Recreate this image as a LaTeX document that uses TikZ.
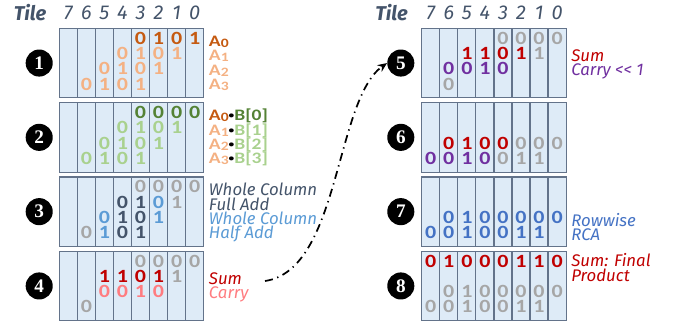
\documentclass[tikz,border=0pt]{standalone}
\usepackage{fontspec}
\usetikzlibrary{calc,arrows.meta}
\newfontfamily\digfont[FakeStretch=1.18]{Carlito}
\newfontfamily\labfont[FakeStretch=1.22]{Carlito}
\newfontfamily\itfont{Fira Sans}
\newfontfamily\numfont{Liberation Serif}
\definecolor{tilefill}{HTML}{DEEBF7}
\definecolor{tileline}{HTML}{63738A}
\definecolor{orD}{HTML}{C55A11}
\definecolor{orL}{HTML}{F4B183}
\definecolor{grD}{HTML}{548235}
\definecolor{grL}{HTML}{A9D18E}
\definecolor{gry}{HTML}{A6A6A6}
\definecolor{slate}{HTML}{44546A}
\definecolor{blu}{HTML}{5B9BD5}
\definecolor{redD}{HTML}{C00000}
\definecolor{redL}{HTML}{FF7C80}
\definecolor{purp}{HTML}{7030A0}
\definecolor{rca}{HTML}{4472C4}
\newcommand\drawtile[2]{%
  \coordinate (#1) at (#2);
  \foreach \k in {0,...,7}{
    \draw[colbox] ($(#1)+(\k*18.05,0)$) rectangle ($(#1)+(\k*18.05+18.05,69.5)$);
  }
}
\newcommand\digrow[5]{%
  \foreach \d [count=\i from 0] in {#5}{
    \pgfmathtruncatemacro\cc{#3-\i}
    \node[digit, text=#4] (#1-r#2-c\cc) at ($(#1)+({(7.5-\cc)*18.05},{9.8+(#2-1)*15.3})$) {\d};
  }
}
\newcommand\dg[5]{%
  \node[digit, text=#4] (#1-r#2-c#3) at ($(#1)+({(7.5-#3)*18.05},{9.8+(#2-1)*15.3})$) {#5};
}
\newcommand\lab[5]{%
  \node[#4] (#1-#2) at ($(#1)+(149.4,#3)$) {#5};
}
\newcommand\Asub[1]{A{\fontsize{9.6}{9.6}\selectfont\raisebox{-0.8pt}{#1}}}
\newcommand\AB[4]{\textcolor{#3}{\Asub{#1}}\textcolor{black}{\raisebox{1.3pt}{\fontsize{7}{7}\selectfont\textbullet}}\textcolor{#4}{B[#2]}}
\begin{document}
\begin{tikzpicture}[x=0.75pt,y=-0.75pt,
  colbox/.style={draw=tileline, fill=tilefill, line width=0.9pt},
  digit/.style={font=\digfont\bfseries\fontsize{14}{14}\selectfont, inner sep=0pt, anchor=center},
  lab/.style={font=\labfont\bfseries\fontsize{12}{12}\selectfont, inner sep=0pt, anchor=west, text height=7.7pt, text depth=0pt},
  itlab/.style={font=\itfont\itshape\fontsize{12.6}{12.6}\selectfont, inner sep=0pt, anchor=west, text height=8.7pt, text depth=0pt},
  badge/.style={circle, fill=black, minimum size=20.3pt, inner sep=0pt, text=white, font=\numfont\bfseries\fontsize{14.4}{14.4}\selectfont},
  hdr/.style={font=\itfont\itshape\fontsize{15}{15}\selectfont, text=slate, inner sep=0pt},
  tilehdr/.style={font=\itfont\bfseries\itshape\fontsize{15}{15}\selectfont, text=slate, inner sep=0pt},
  arrowline/.style={line width=1.3pt, dash pattern=on 6pt off 3.5pt on 1pt off 3.5pt, -{Stealth[length=7pt,width=6pt]}}
]
\useasboundingbox (0,0) rectangle (681,324);
% headers
\node[tilehdr] (hTL) at (30,12.5) {Tile};
\node[tilehdr] (hTR) at (391.5,12.5) {Tile};
\foreach \c in {0,...,7}{
  \node[hdr] (hL\c) at ({59.3+(7.5-\c)*18.05},13) {\c};
  \node[hdr] (hR\c) at ({421.7+(7.5-\c)*18.05},13) {\c};
}
% tiles
\drawtile{T1}{59.3,28.3}
\drawtile{T2}{59.3,102.6}
\drawtile{T3}{59.3,176.9}
\drawtile{T4}{59.3,251.2}
\drawtile{T5}{421.7,28.3}
\drawtile{T6}{421.7,102.6}
\drawtile{T7}{421.7,176.9}
\drawtile{T8}{421.7,251.2}
% badges
\node[badge] (b1) at (39.2,63.05) {1};
\node[badge] (b2) at (39.2,137.35) {2};
\node[badge] (b3) at (39.2,211.65) {3};
\node[badge] (b4) at (39.2,285.95) {4};
\node[badge] (b5) at (400.8,63.05) {5};
\node[badge] (b6) at (400.8,137.35) {6};
\node[badge] (b7) at (400.8,211.65) {7};
\node[badge] (b8) at (400.8,285.95) {8};
% tile 1
\digrow{T1}{1}{3}{orD}{0,1,0,1}
\digrow{T1}{2}{4}{orL}{0,1,0,1}
\digrow{T1}{3}{5}{orL}{0,1,0,1}
\digrow{T1}{4}{6}{orL}{0,1,0,1}
\lab{T1}{l1}{13}{lab, text=orD}{\Asub{0}}
\lab{T1}{l2}{27.3}{lab, text=orL}{\Asub{1}}
\lab{T1}{l3}{41.6}{lab, text=orL}{\Asub{2}}
\lab{T1}{l4}{55.9}{lab, text=orL}{\Asub{3}}
% tile 2
\digrow{T2}{1}{3}{grD}{0,0,0,0}
\digrow{T2}{2}{4}{grL}{0,1,0,1}
\digrow{T2}{3}{5}{grL}{0,1,0,1}
\digrow{T2}{4}{6}{grL}{0,1,0,1}
\lab{T2}{l1}{13}{lab}{\AB{0}{0}{orD}{grD}}
\lab{T2}{l2}{27.3}{lab}{\AB{1}{1}{orL}{grL}}
\lab{T2}{l3}{41.6}{lab}{\AB{2}{2}{orL}{grL}}
\lab{T2}{l4}{55.9}{lab}{\AB{3}{3}{orL}{grL}}
% tile 3
\digrow{T3}{1}{3}{gry}{0,0,0,0}
\dg{T3}{2}{4}{slate}{0}\dg{T3}{2}{3}{slate}{1}\dg{T3}{2}{2}{blu}{0}\dg{T3}{2}{1}{gry}{1}
\dg{T3}{3}{5}{blu}{0}\dg{T3}{3}{4}{slate}{1}\dg{T3}{3}{3}{slate}{0}\dg{T3}{3}{2}{blu}{1}
\dg{T3}{4}{6}{gry}{0}\dg{T3}{4}{5}{blu}{1}\dg{T3}{4}{4}{slate}{0}\dg{T3}{4}{3}{slate}{1}
\lab{T3}{l1}{13}{itlab, text=slate}{Whole Column}
\lab{T3}{l2}{27.3}{itlab, text=slate}{Full Add}
\lab{T3}{l3}{41.6}{itlab, text=blu}{Whole Column}
\lab{T3}{l4}{55.9}{itlab, text=blu}{Half Add}
% tile 4
\digrow{T4}{1}{3}{gry}{0,0,0,0}
\digrow{T4}{2}{5}{redD}{1,1,0,1}
\dg{T4}{2}{1}{gry}{1}
\digrow{T4}{3}{5}{redL}{0,0,1,0}
\dg{T4}{4}{6}{gry}{0}
\lab{T4}{l2}{27.3}{itlab, text=redD}{Sum}
\lab{T4}{l3}{41.6}{itlab, text=redL}{Carry}
% tile 5
\digrow{T5}{1}{3}{gry}{0,0,0,0}
\digrow{T5}{2}{5}{redD}{1,1,0,1}
\dg{T5}{2}{1}{gry}{1}
\digrow{T5}{3}{6}{purp}{0,0,1,0}
\dg{T5}{4}{6}{gry}{0}
\lab{T5}{l2}{27.3}{itlab, text=redD}{Sum}
\lab{T5}{l3}{41.6}{itlab, text=purp}{Carry << 1}
% tile 6
\digrow{T6}{3}{6}{redD}{0,1,0,0}
\digrow{T6}{3}{2}{gry}{0,0,0}
\digrow{T6}{4}{7}{purp}{0,0,1,0}
\digrow{T6}{4}{3}{gry}{0,1,1}
% tile 7
\digrow{T7}{3}{6}{rca}{0,1,0,0,0,0,0}
\digrow{T7}{4}{7}{rca}{0,0,1,0,0,1,1}
\lab{T7}{l1}{43.7}{itlab, text=rca}{Rowwise}
\lab{T7}{l2}{58.2}{itlab, text=rca}{RCA}
% tile 8
\digrow{T8}{1}{7}{redD}{0,1,0,0,0,1,1,0}
\digrow{T8}{3}{6}{gry}{0,1,0,0,0,0,0}
\digrow{T8}{4}{7}{gry}{0,0,1,0,0,1,1}
\lab{T8}{l1}{9.6}{itlab, text=redD}{Sum: Final}
\lab{T8}{l2}{24.4}{itlab, text=redD}{Product}
% arrow
\coordinate (arrS) at (265,281);
\draw[arrowline] (arrS) .. controls (340,270) and (335,100) .. (b5.west);
\end{tikzpicture}
\end{document}
